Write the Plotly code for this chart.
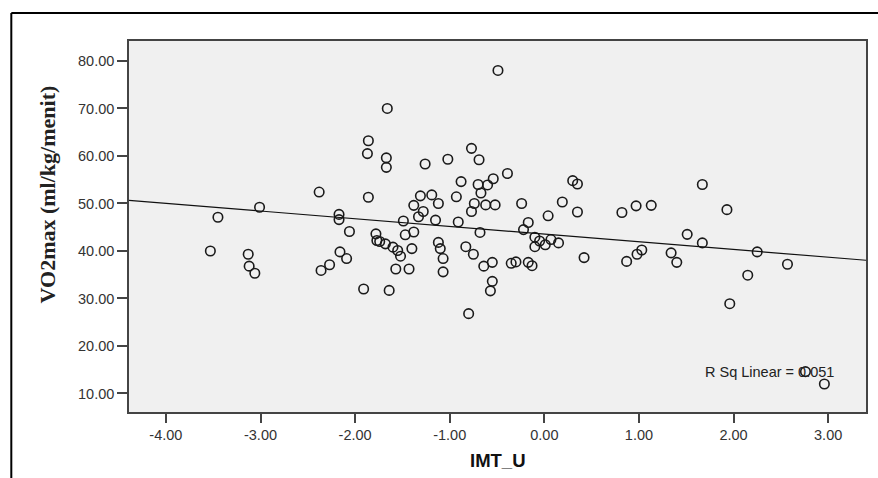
import plotly.graph_objects as go
import numpy as np

# IMT_U (x) and VO2max (y) values
imt_u = [
    -3.53, -3.45, -3.13, -3.12, -3.06, -3.01,
    -2.38, -2.36, -2.27, -2.17, -2.17, -2.16, -2.09, -2.06,
    -1.91, -1.86, -1.86, -1.87, -1.78, -1.77, -1.74, -1.68,
    -1.66, -1.67, -1.67, -1.64, -1.60, -1.57, -1.55, -1.52,
    -1.49, -1.47, -1.43, -1.40, -1.38, -1.38, -1.33, -1.31,
    -1.28, -1.26, -1.19, -1.15, -1.12, -1.12, -1.10, -1.07,
    -1.07, -1.02, -0.93, -0.91, -0.88, -0.83, -0.80, -0.77,
    -0.77, -0.75, -0.74, -0.70, -0.69, -0.67, -0.68, -0.64,
    -0.62, -0.60, -0.55, -0.55, -0.57, -0.54, -0.52, -0.49,
    -0.39, -0.35, -0.30, -0.24, -0.22, -0.17, -0.17, -0.13,
    -0.10, -0.10, -0.05, 0.01, 0.07, 0.15, 0.04, 0.19,
    0.30, 0.35, 0.35, 0.42, 0.82, 0.87, 0.97, 0.98,
    1.03, 1.13, 1.34, 1.40, 1.51, 1.67, 1.67, 1.93,
    1.96, 2.15, 2.25, 2.57, 2.76, 2.96,
]
vo2max = [
    40.0, 47.1, 39.3, 36.8, 35.3, 49.2,
    52.4, 35.9, 37.1, 47.7, 46.6, 39.8, 38.4, 44.1,
    32.0, 51.3, 63.2, 60.5, 43.6, 42.2, 42.0, 41.5,
    70.0, 59.6, 57.6, 31.7, 40.8, 36.2, 40.1, 38.9,
    46.3, 43.4, 36.2, 40.5, 44.0, 49.6, 47.2, 51.6,
    48.3, 58.3, 51.8, 46.5, 50.0, 41.8, 40.5, 38.4,
    35.6, 59.3, 51.4, 46.1, 54.6, 40.9, 26.8, 61.6,
    48.3, 39.3, 50.0, 54.0, 59.2, 52.2, 43.9, 36.8,
    49.7, 53.9, 37.6, 33.6, 31.6, 55.2, 49.7, 78.0,
    56.3, 37.4, 37.7, 50.0, 44.5, 46.0, 37.6, 36.9,
    42.9, 40.9, 42.1, 41.3, 42.4, 41.7, 47.4, 50.3,
    54.8, 54.1, 48.2, 38.6, 48.1, 37.8, 49.5, 39.3,
    40.2, 49.6, 39.6, 37.6, 43.5, 54.0, 41.7, 48.7,
    28.9, 34.9, 39.8, 37.2, 14.6, 12.0,
]

# Linear fit line as drawn in the reference
fit_intercept = 43.55
fit_slope = -1.62
r_sq_label = "R Sq Linear = 0.051"

x_range = [-4.39, 3.40]
y_range = [6.1, 84.2]
x_ticks = [-4, -3, -2, -1, 0, 1, 2, 3]
x_tick_labels = ["-4.00", "-3.00", "-2.00", "-1.00", "0.00", "1.00", "2.00", "3.00"]
y_ticks = [10, 20, 30, 40, 50, 60, 70, 80]
y_tick_labels = ["10.00", "20.00", "30.00", "40.00", "50.00", "60.00", "70.00", "80.00"]

line_x = np.array(x_range)
line_y = fit_intercept + fit_slope * line_x

fig = go.Figure()
fig.add_trace(go.Scatter(
    x=imt_u, y=vo2max, mode="markers",
    marker=dict(symbol="circle-open", size=9.5, color="#1a1a1a",
                line=dict(width=1.6, color="#1a1a1a")),
    showlegend=False, hoverinfo="x+y",
))
fig.add_trace(go.Scatter(
    x=line_x, y=line_y, mode="lines",
    line=dict(color="#111111", width=1.2),
    showlegend=False, hoverinfo="skip",
))

tick_font = dict(family="Liberation Sans, Arial, sans-serif", size=14.5, color="#333333")

fig.update_layout(
    width=878, height=478,
    margin=dict(l=129, r=10, t=41, b=66, pad=0),
    paper_bgcolor="white",
    plot_bgcolor="#f0f0f0",
    xaxis=dict(
        range=x_range, tickvals=x_ticks, ticktext=x_tick_labels,
        showgrid=False, zeroline=False,
        showline=True, linecolor="#444444", linewidth=1.5, mirror=True,
        ticks="outside", ticklen=9, tickwidth=1.5, tickcolor="#444444",
        tickfont=tick_font,
    ),
    yaxis=dict(
        range=y_range, tickvals=y_ticks, ticktext=y_tick_labels,
        showgrid=False, zeroline=False,
        showline=True, linecolor="#444444", linewidth=1.5, mirror=True,
        ticks="outside", ticklen=10, tickwidth=1.5, tickcolor="#444444",
        tickfont=tick_font,
    ),
    annotations=[
        dict(text="VO2max (ml/kg/menit)", textangle=-90,
             xref="paper", yref="paper", x=-0.111, y=0.587,
             xanchor="center", yanchor="middle", showarrow=False,
             font=dict(family="Liberation Serif, Times New Roman, serif", size=22,
                       color="#222222", weight="bold")),
        dict(text="IMT_U", xref="paper", yref="paper", x=0.5007, y=-0.130,
             xanchor="center", yanchor="middle", showarrow=False,
             font=dict(family="Liberation Sans, Arial, sans-serif", size=18.5,
                       color="#111111", weight="bold")),
        dict(text=r_sq_label, xref="paper", yref="paper", x=0.9594, y=0.108,
             xanchor="right", yanchor="middle", showarrow=False,
             font=dict(family="Liberation Sans, Arial, sans-serif", size=14.5,
                       color="#222222")),
    ],
    shapes=[
        dict(type="line", xref="paper", yref="paper",
             x0=-0.1597, x1=1.02, y0=1.0755, y1=1.0755,
             line=dict(color="black", width=2)),
        dict(type="line", xref="paper", yref="paper",
             x0=-0.1597, x1=-0.1597, y0=1.0755, y1=-0.2,
             line=dict(color="black", width=2)),
    ],
)

fig.write_html("out.html")
